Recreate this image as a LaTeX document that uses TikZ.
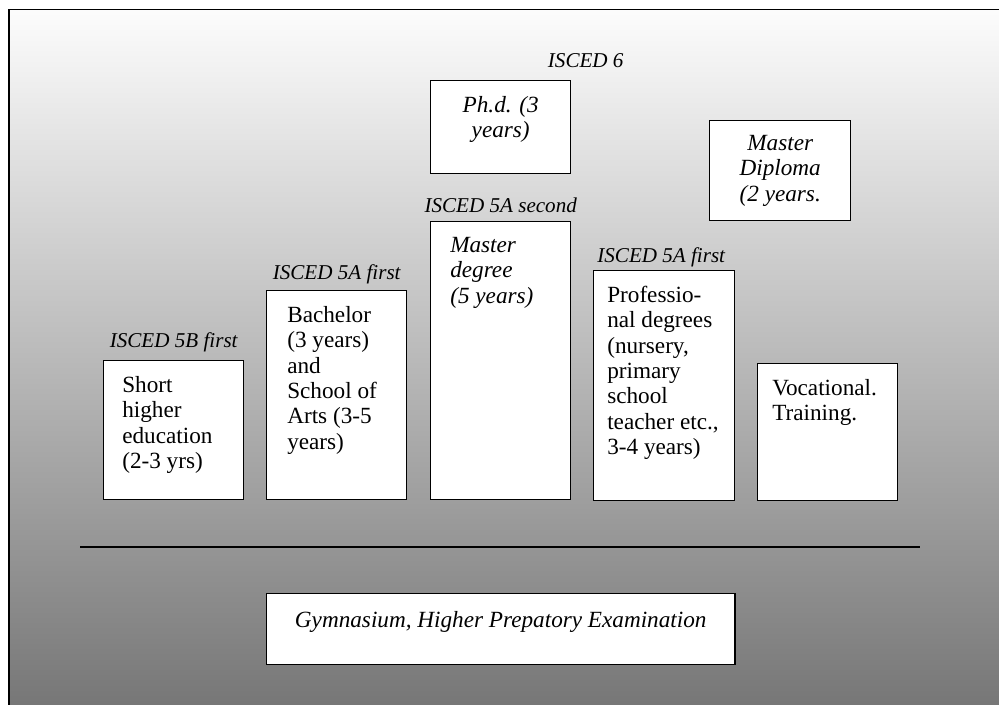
\documentclass[tikz,border=0pt]{standalone}
\usepackage{fontspec}
\setmainfont{Liberation Serif}
\usetikzlibrary{calc}

\begin{document}
\begin{tikzpicture}[%
    x=0.025cm, y=-0.025cm,      % one unit is one pixel of the page, y runs down
    every node/.style={inner sep=0pt},
    ]
% -------------------------------------------------
% Box and text styles
\tikzset{
  box/.style={draw, fill=white, line width=1pt, anchor=north west},
  % texts hang from their top; each starts with a \strut so the
  % first baseline always sits the same distance under the top
  txt/.style={anchor=north west, align=left, font={\fontsize{16.5}{18.1}\selectfont}},
  ctxt/.style={txt, anchor=north, align=center},
  it/.style={font={\fontsize{16.5}{18.1}\selectfont\itshape}},
  % level labels above the boxes
  lvl/.style={anchor=base, font={\fontsize{15}{18}\selectfont\itshape}},
}
% -------------------------------------------------
% Page, grey fade and frame (frame runs off right and bottom)
\clip (0,0) rectangle (999,704);
\shade [top color=white!99!black, middle color=white!78!black,
        bottom color=white!46!black] (9,9.5) rectangle (1010,712);
\draw [line width=1.4pt] (9,9.5) rectangle (1010,712);
% -------------------------------------------------
% The boxes
\node [box, minimum width=3.5cm, minimum height=3.475cm] (short) at (103,360) {};
\node [box, minimum width=3.5cm, minimum height=5.225cm] (bach) at (266,290) {};
\node [box, minimum width=3.5cm, minimum height=6.95cm] (mdeg) at (430,221) {};
\node [box, minimum width=3.5cm, minimum height=2.325cm] (phd) at (430,80) {};
\node [box, minimum width=3.525cm, minimum height=2.5cm] (mdip) at (709,120) {};
\node [box, minimum width=3.525cm, minimum height=5.75cm] (prof) at (593,270) {};
\node [box, minimum width=3.5cm, minimum height=3.425cm] (voc) at (757,363) {};
\node [box, minimum width=11.7cm, minimum height=1.775cm] (gym) at (266,593) {};
% -------------------------------------------------
% Box texts (strut top is about 14 units under the box top)
\node [txt] (short txt) at ($(short.north west)+(19,14)$)
  {\strut Short\\higher\\education\\(2-3 yrs)};
\node [txt] (bach txt) at ($(bach.north west)+(21,14)$)
  {\strut Bachelor\\(3 years)\\and\\School of\\Arts (3-5\\years)};
\node [txt, it] (mdeg txt) at ($(mdeg.north west)+(20,13)$)
  {\strut Master\\degree\\(5 years)};
\node [ctxt, it] (phd txt) at ($(phd.north)+(0,14)$) {\strut Ph.d. (3\\years)};
\node [ctxt, it] (mdip txt) at ($(mdip.north)+(0,12)$)
  {\strut Master\\Diploma\\(2 years.};
\node [txt] (prof txt) at ($(prof.north west)+(14,14)$)
  {\strut Professio-\\nal degrees\\(nursery,\\primary\\school\\teacher etc.,\\3-4 years)};
\node [txt] (voc txt) at ($(voc.north west)+(15,14)$)
  {\strut Vocational.\\Training.};
\node [ctxt, it] (gym txt) at ($(gym.north)+(0,16)$)
  {\strut Gymnasium, Higher Prepatory Examination};
% -------------------------------------------------
% ISCED levels
\node [lvl] (l short) at ($(short.north)+(0,-13)$) {ISCED 5B first};
\node [lvl] (l bach) at ($(bach.north)+(0,-11)$) {ISCED 5A first};
\node [lvl] (l mdeg) at ($(mdeg.north)+(0,-9)$) {ISCED 5A second};
\node [lvl] (l phd) at ($(phd.north)+(85,-13)$) {ISCED 6};
\node [lvl] (l prof) at ($(prof.north)+(-3,-8)$) {ISCED 5A first};
% -------------------------------------------------
% Rule between school and higher education
\coordinate (rule w) at (80,547);
\coordinate (rule e) at (920,547);
\draw [line width=2.1pt] (rule w) -- (rule e);
\end{tikzpicture}
\end{document}
